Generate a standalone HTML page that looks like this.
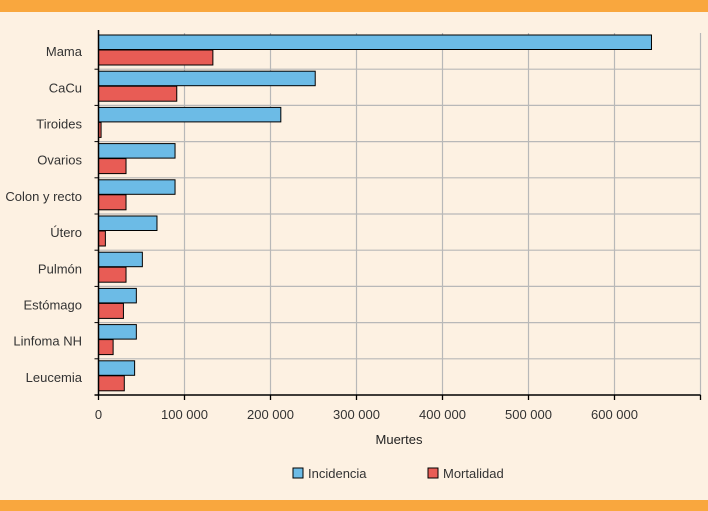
<!DOCTYPE html>
<html><head><meta charset="utf-8"><style>
body{margin:0;width:708px;height:511px;background:#fdf1e2;overflow:hidden;font-family:"Liberation Sans",sans-serif}
.band{position:absolute;left:0;width:708px;background:#f9a73e}
</style></head><body>
<div class="band" style="top:0;height:12px"></div>
<div class="band" style="top:500px;height:11px"></div>
<svg id="c" width="708" height="511" style="position:absolute;left:0;top:0"></svg>
<script>
const categories=["Mama","CaCu","Tiroides","Ovarios","Colon y recto","Útero","Pulmón","Estómago","Linfoma NH","Leucemia"];
const incidencia=[643000,252000,212000,89000,89000,68000,51000,44000,44000,42000];
const mortalidad=[133000,91000,3000,32000,32000,8000,32000,29000,17000,30000];
const ticks=[0,100000,200000,300000,400000,500000,600000];
const tickLabels=["0","100 000","200 000","300 000","400 000","500 000","600 000"];
const svg=document.getElementById('c');const NS='http://www.w3.org/2000/svg';
const x0=98.5,y0=33,y1=395,rowH=(y1-y0)/10;
const xs=v=>x0+v*86/100000;
function el(t,a,p){const e=document.createElementNS(NS,t);for(const k in a)e.setAttribute(k,a[k]);(p||svg).appendChild(e);return e;}
// grid
ticks.concat([700000]).forEach((t,i)=>{if(i==0)return;const g=el('line',{x1:xs(t),x2:xs(t),y1:y0,y2:y1,stroke:'#b8b8b8','stroke-width':1.2});

});
for(let i=1;i<10;i++){const g=el('line',{x1:x0,x2:xs(700000),y1:y0+i*rowH,y2:y0+i*rowH,stroke:'#b8b8b8','stroke-width':1.2});

}
categories.forEach((c,i)=>{const top=y0+i*rowH;
const b=el('rect',{x:x0,y:top+2,width:xs(incidencia[i])-x0,height:14.5,fill:'#6cbbe6',stroke:'#000','stroke-width':1});


const r=el('rect',{x:x0,y:top+17,width:xs(mortalidad[i])-x0,height:15,fill:'#e85c55',stroke:'#000','stroke-width':1});


const t=el('text',{x:82,y:top+rowH/2+5,'text-anchor':'end','font-size':13,fill:'#333'});t.textContent=c;


const tk=el('line',{x1:x0-4,x2:x0,y1:top+rowH,y2:top+rowH,stroke:'#000'});
});
el('line',{x1:x0,x2:x0,y1:y0-3,y2:y1,stroke:'#000','stroke-width':1.5});
el('line',{x1:x0-4,x2:xs(700000),y1:y1,y2:y1,stroke:'#000','stroke-width':1.5});
ticks.concat([700000]).forEach((t,i)=>{el('line',{x1:xs(t),x2:xs(t),y1:y1,y2:y1+5,stroke:'#000','stroke-width':1.3});
if(i<tickLabels.length){const l=el('text',{x:xs(t),y:y1+24,'text-anchor':'middle','font-size':13,fill:'#333'});l.textContent=tickLabels[i];

}});
const at=el('text',{x:399,y:444,'text-anchor':'middle','font-size':13,fill:'#222'});at.textContent='Muertes';


[[293,'#6cbbe6','Incidencia'],[428,'#e85c55','Mortalidad']].forEach(([x,f,n])=>{
const r=el('rect',{x:x,y:468,width:10,height:10,fill:f,stroke:'#000'});


const t=el('text',{x:x+15,y:478,'font-size':13,fill:'#333'});t.textContent=n;

});
</script></body></html>
